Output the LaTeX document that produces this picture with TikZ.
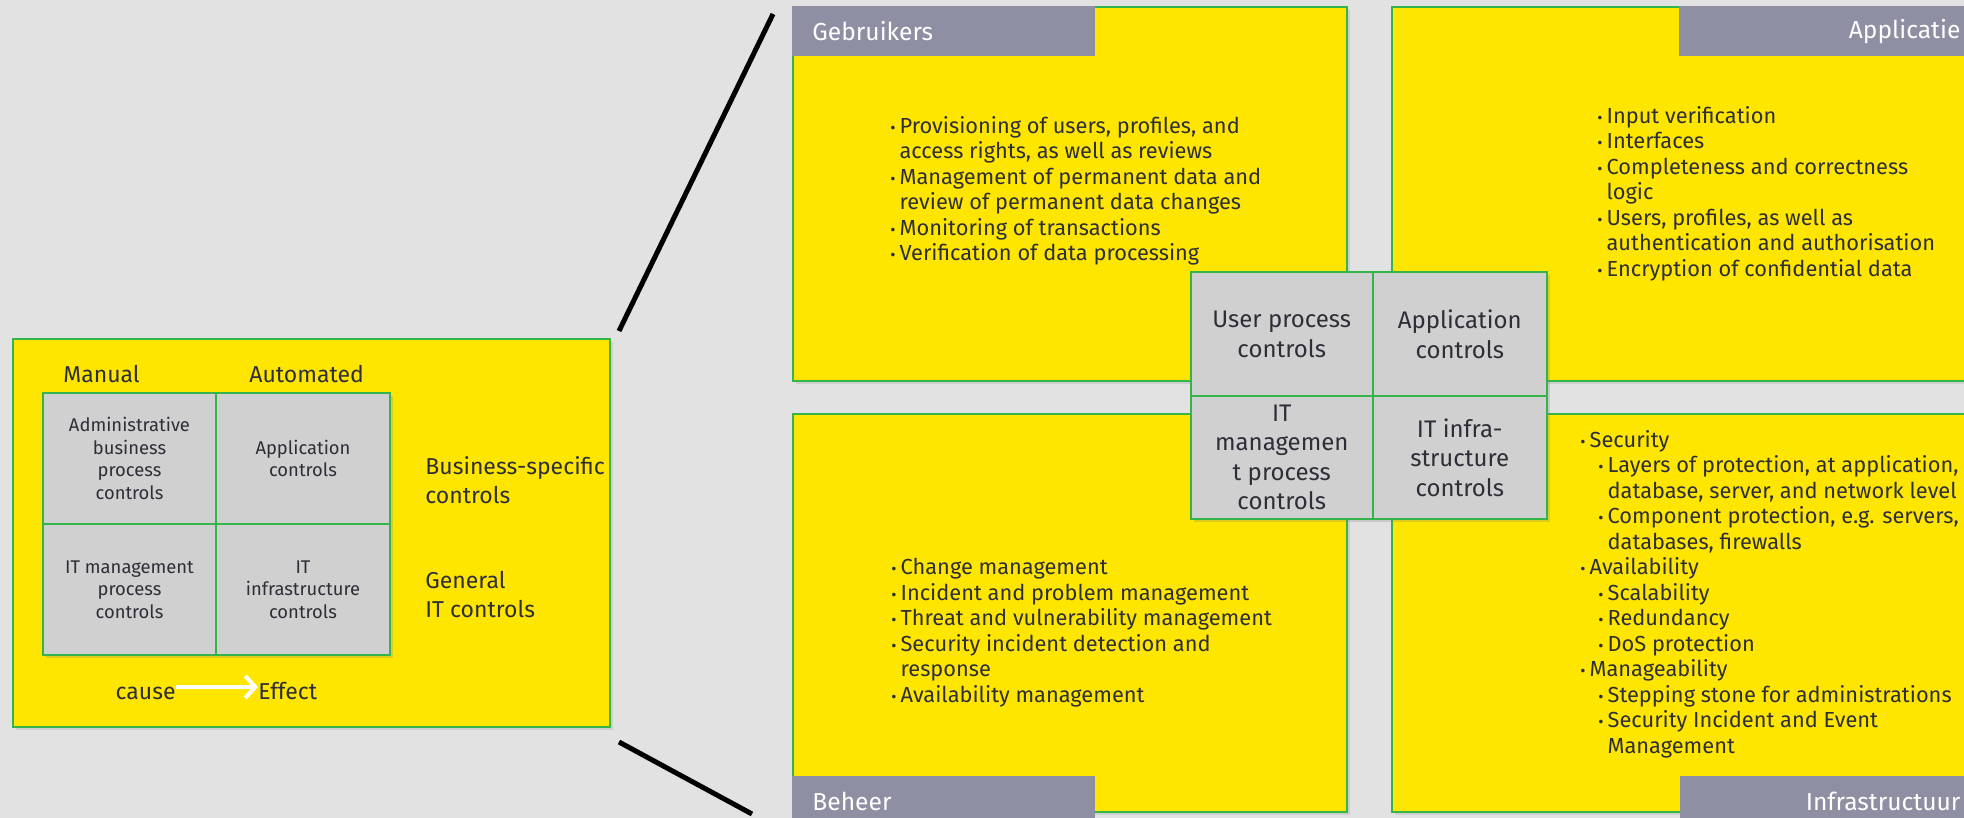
\documentclass[tikz,border=0pt]{standalone}
\usepackage{fontspec}
\setmainfont{Fira Sans}
\usetikzlibrary{arrows.meta,shadows}

\definecolor{eyyellow}{HTML}{FFE600}
\definecolor{eygreen}{HTML}{34B44A}
\definecolor{eygrey}{HTML}{D0D0D0}
\definecolor{eytab}{HTML}{8E8FA3}
\definecolor{eytext}{HTML}{2E2E38}
\definecolor{eybg}{HTML}{E2E2E2}

\newcommand{\bul}{\makebox[4.6pt][l]{\footnotesize\textbullet}}
\newcommand{\ind}{\hspace*{4.6pt}}
\newcommand{\subbul}{\hspace*{9pt}\bul}
\newcommand{\subind}{\hspace*{13.6pt}}

\tikzset{
  panel/.style={fill=eyyellow, draw=eygreen, line width=1pt, anchor=north west,
    drop shadow={shadow xshift=1.5pt, shadow yshift=-1.5pt, opacity=0.2}},
  ctrl/.style={fill=eygrey, draw=eygreen, line width=1pt, align=center,
    text=eytext, inner sep=0pt,
    drop shadow={shadow xshift=1.5pt, shadow yshift=-1.5pt, opacity=0.25}},
  smallctrl/.style={ctrl, minimum width=86.75pt, minimum height=65.5pt,
    font=\fontsize{9.2}{11.3}\selectfont},
  bigctrl/.style={ctrl, minimum height=61.75pt,
    font=\fontsize{12}{14.7}\selectfont},
  tab/.style={fill=eytab, text=white, anchor=north west, inner xsep=10pt,
    inner ysep=0pt, minimum height=24.75pt, font=\fontsize{12.3}{13}\selectfont},
  lbl/.style={text=eytext, inner sep=0pt, font=\fontsize{11.5}{14.5}\selectfont},
  items/.style={text=eytext, inner sep=0pt, align=left, anchor=north west,
    font=\fontsize{10.9}{12.75}\selectfont},
  zoomline/.style={black, line width=2.5pt},
  causearrow/.style={white, line width=2pt, -{Straight Barb[length=5pt,width=11pt]}},
}

\begin{document}
\begin{tikzpicture}[x=0.5pt, y=-0.5pt]

% ---------- page ----------
\fill[eybg] (0,0) rectangle (1964,818);
\useasboundingbox (0,0) rectangle (1964,818);
\clip (0,0) rectangle (1964,818);

% ---------- overview panel ----------
\node[panel, minimum width=298.5pt, minimum height=194pt] (overview) at (12,338) {};
\node[lbl, anchor=base west] (manual) at (63,382) {Manual};
\node[lbl, anchor=base west] (automated) at (249,382) {Automated};
\node[smallctrl] (adminctl) at (129.5,458.5) {Administrative\\business\\process\\controls};
\node[smallctrl] (appctl) at (303,458.5) {Application\\controls};
\node[smallctrl] (itmgmtctl) at (129.5,589.5) {IT management\\process\\controls};
\node[smallctrl] (itinfractl) at (303,589.5) {IT\\infrastructure\\controls};
\begin{scope}
  \clip (overview.north west) rectangle (overview.south east);
  \node[lbl, anchor=west, align=left] (bizspec) at (425,480) {Business-specific\\controls};
  \node[lbl, anchor=west, align=left] (general) at (425,595) {General\\IT controls};
\end{scope}
\node[lbl, anchor=base east] (cause) at (176,699) {cause};
\node[lbl, anchor=base west] (effect) at (258,699) {Effect};
\coordinate (arrowstart) at ([yshift=3pt]cause.east);
\draw[causearrow] (arrowstart) -- (arrowstart -| effect.west);

% ---------- zoom lines ----------
\coordinate (uptip) at (773,14);
\coordinate (lowtip) at (752,814);
\draw[zoomline] ([shift={(8,-7)}]overview.north east) -- (uptip);
\draw[zoomline] ([shift={(8,14)}]overview.south east) -- (lowtip);

% ---------- Gebruikers ----------
\node[panel, minimum width=277pt, minimum height=187pt] (users) at (792,6) {};
\node[tab, text width=131.5pt, align=left] (userstab) at (792,6) {Gebruikers};
\node[items] (userlist) at (890,116) {\bul Provisioning of users, profiles, and\\
  \ind access rights, as well as reviews\\
  \bul Management of permanent data and\\
  \ind review of permanent data changes\\
  \bul Monitoring of transactions\\
  \bul Verification of data processing};

% ---------- Applicatie ----------
\node[panel, minimum width=299.5pt, minimum height=187pt] (apps) at (1391,6) {};
\node[tab, text width=130.5pt, align=right] (appstab) at (1679,6) {Applicatie};
\node[items] (applist) at (1597,106) {\bul Input verification\\
  \bul Interfaces\\
  \bul Completeness and correctness\\
  \ind logic\\
  \bul Users, profiles, as well as\\
  \ind authentication and authorisation\\
  \bul Encryption of confidential data};

% ---------- Beheer ----------
\node[panel, minimum width=277pt, minimum height=199pt] (mgmt) at (792,413) {};
\node[tab, text width=131.5pt, align=left] (mgmttab) at (792,776) {Beheer};
\node[items] (mgmtlist) at (891,558) {\bul Change management\\
  \bul Incident and problem management\\
  \bul Threat and vulnerability management\\
  \bul Security incident detection and\\
  \ind response\\
  \bul Availability management};

% ---------- Infrastructuur ----------
\node[panel, minimum width=299.5pt, minimum height=199pt] (infra) at (1391,413) {};
\node[tab, text width=130pt, align=right] (infratab) at (1680,776) {Infrastructuur};
\node[items] (infralist) at (1580,430) {\bul Security\\
  \subbul Layers of protection, at application,\\
  \subind database, server, and network level\\
  \subbul Component protection, e.g. servers,\\
  \subind databases, firewalls\\
  \bul Availability\\
  \subbul Scalability\\
  \subbul Redundancy\\
  \subbul DoS protection\\
  \bul Manageability\\
  \subbul Stepping stone for administrations\\
  \subbul Security Incident and Event\\
  \subind Management};

% ---------- centre grid ----------
\node[bigctrl, minimum width=90.75pt] (userctl) at (1281.75,334.25) {User process\\controls};
\node[bigctrl, minimum width=87.25pt] (appsctl) at (1459.75,334.25) {Application\\controls};
\node[bigctrl, minimum width=90.75pt] (itmctl) at (1281.75,457.5) {IT\\managemen\\t process\\controls};
\node[bigctrl, minimum width=87.25pt] (itictl) at (1459.75,457.5) {IT infra-\\structure\\controls};

\end{tikzpicture}
\end{document}
